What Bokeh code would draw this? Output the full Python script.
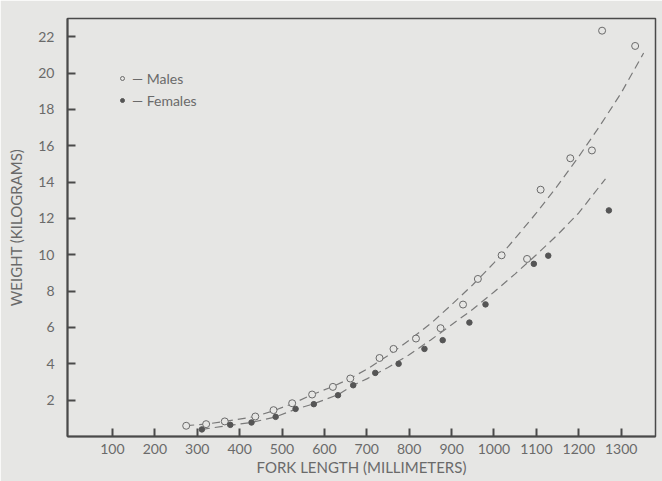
from bokeh.plotting import figure
from bokeh.models import FixedTicker, Range1d, Legend, LegendItem
from bokeh.embed import file_html
from bokeh.resources import INLINE

# Observed points (fork length mm, weight kg)
male_len = [274, 321, 365, 437, 480, 524, 571, 620, 661, 730, 763, 816, 874, 927, 962, 1018, 1078, 1110, 1180, 1231, 1255, 1333]
male_wt = [0.59, 0.68, 0.83, 1.10, 1.45, 1.83, 2.31, 2.73, 3.19, 4.32, 4.82, 5.39, 5.96, 7.26, 8.67, 9.97, 9.77, 13.58, 15.31, 15.74, 22.33, 21.49]

female_len = [311, 378, 428, 485, 532, 575, 632, 668, 720, 775, 836, 879, 942, 980, 1094, 1128, 1271]
female_wt = [0.39, 0.64, 0.77, 1.08, 1.52, 1.78, 2.27, 2.82, 3.50, 4.00, 4.82, 5.30, 6.27, 7.27, 9.50, 9.95, 12.44]

# Fitted curves
male_fit_len = [274, 321, 365, 437, 480, 524, 571, 620, 661, 700, 750, 800, 850, 900, 950, 1000, 1050, 1100, 1150, 1200, 1250, 1300, 1353]
male_fit_wt = [0.60, 0.68, 0.83, 1.10, 1.42, 1.80, 2.30, 2.75, 3.20, 3.70, 4.45, 5.30, 6.20, 7.25, 8.35, 9.55, 10.9, 12.3, 13.8, 15.4, 17.1, 18.9, 21.1]

female_fit_len = [311, 378, 428, 485, 532, 575, 632, 668, 700, 750, 800, 850, 900, 950, 1000, 1050, 1100, 1150, 1200, 1263]
female_fit_wt = [0.39, 0.62, 0.77, 1.08, 1.50, 1.80, 2.30, 2.82, 3.17, 3.80, 4.50, 5.30, 6.15, 7.00, 7.95, 8.95, 10.0, 11.1, 12.3, 14.18]

x_ticks = [100, 200, 300, 400, 500, 600, 700, 800, 900, 1000, 1100, 1200, 1300]
y_ticks = [2, 4, 6, 8, 10, 12, 14, 16, 18, 20, 22]

BG = "#e6e6e4"
INK = "#4a4a4a"
TXT = "#6a6a6a"
FONT = "Lato"

p = figure(width=662, height=481, output_backend="svg", toolbar_location=None,
           x_range=Range1d(-6, 1381), y_range=Range1d(0, 23),
           min_border_left=67, min_border_right=7, min_border_top=18, min_border_bottom=45)
p.background_fill_color = BG
p.border_fill_color = BG
p.outline_line_color = INK
p.outline_line_width = 1.5
p.xgrid.visible = False
p.ygrid.visible = False

for ax in (p.xaxis[0], p.yaxis[0]):
    ax.axis_line_color = INK
    ax.axis_line_width = 2
    ax.major_tick_line_color = INK
    ax.major_tick_line_width = 2
    ax.major_tick_in = 8
    ax.major_tick_out = 0
    ax.minor_tick_line_color = None
    ax.major_label_text_font = FONT
    ax.major_label_text_font_size = "14px"
    ax.major_label_text_color = TXT
    ax.axis_label_text_font = FONT
    ax.axis_label_text_font_size = "15px"
    ax.axis_label_text_font_style = "normal"
    ax.axis_label_text_color = TXT

p.xaxis[0].ticker = FixedTicker(ticks=x_ticks)
p.yaxis[0].ticker = FixedTicker(ticks=y_ticks)
p.xaxis[0].axis_label = "FORK LENGTH (MILLIMETERS)"
p.yaxis[0].axis_label = "WEIGHT (KILOGRAMS)"
p.xaxis[0].major_label_standoff = 7
p.xaxis[0].axis_label_standoff = 1
p.yaxis[0].major_label_standoff = 13
p.yaxis[0].axis_label_standoff = 10

p.line(male_fit_len, male_fit_wt, line_color="#7a7a7a", line_width=1.2, line_dash="8 5")
p.line(female_fit_len, female_fit_wt, line_color="#7a7a7a", line_width=1.2, line_dash="8 5")

m = p.scatter(male_len, male_wt, marker="circle", size=7, fill_color=BG, line_color="#6a6a6a", line_width=1)
f = p.scatter(female_len, female_wt, marker="circle", size=5.5, fill_color="#555555", line_color="#555555")

legend = Legend(items=[LegendItem(label="— Males", renderers=[m]),
                       LegendItem(label="— Females", renderers=[f])],
                location=(50, 326), orientation="vertical")
legend.background_fill_alpha = 0
legend.border_line_color = None
legend.padding = 0
legend.margin = 0
legend.spacing = 2
legend.glyph_width = 10
legend.glyph_height = 20
legend.label_height = 20
legend.label_standoff = 5
legend.label_text_font = FONT
legend.label_text_font_size = "14px"
legend.label_text_color = TXT
p.add_layout(legend)

open("out.html", "w").write(file_html(p, INLINE))
